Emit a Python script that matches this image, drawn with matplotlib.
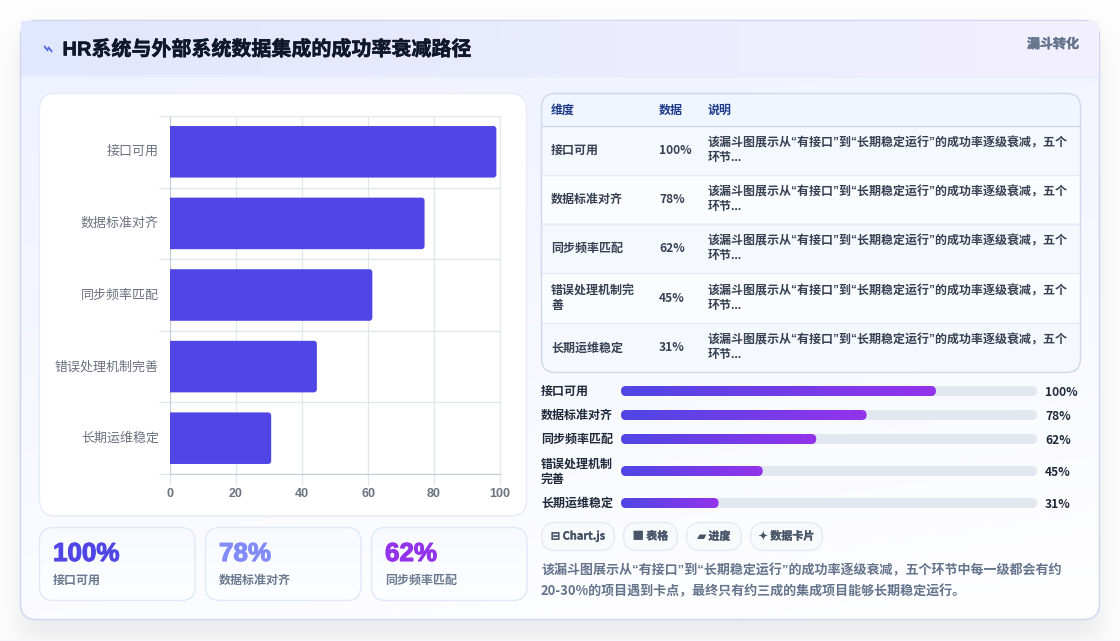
import math
import numpy as np
import matplotlib
matplotlib.use('Agg')
import matplotlib.pyplot as plt
import matplotlib.patheffects as pe
from matplotlib.colors import to_rgb
from matplotlib.patches import FancyBboxPatch, Rectangle
from matplotlib.transforms import ScaledTranslation

plt.rcParams['font.family'] = ['Noto Sans CJK SC', 'DejaVu Sans']
LATIN_CJK = ['Liberation Sans', 'Noto Sans CJK SC', 'DejaVu Sans']

W, H = 1120, 641

stages = ['接口可用', '数据标准对齐', '同步频率匹配', '错误处理机制完善', '长期运维稳定']
progress_labels = ['接口可用', '数据标准对齐', '同步频率匹配', '错误处理机制\n完善', '长期运维稳定']
table_labels = ['接口可用', '数据标准对齐', '同步频率匹配', '错误处理机制完\n善', '长期运维稳定']
values = [100, 78, 62, 45, 31]
x_ticks = [0, 20, 40, 60, 80, 100]

title = 'HR系统与外部系统数据集成的成功率衰减路径'
tag = '漏斗转化'
table_head = ['维度', '数据', '说明']
row_note = '该漏斗图展示从“有接口”到“长期稳定运行”的成功率逐级衰减，五个\n环节...'
chips = ['⊟ Chart.js', '■ 表格', '▰ 进度', '✦ 数据卡片']
summary = ['该漏斗图展示从“有接口”到“长期稳定运行”的成功率逐级衰减，五个环节中每一级都会有约',
           '20-30%的项目遇到卡点，最终只有约三成的集成项目能够长期稳定运行。']
card_colors = ['#4f46e5', '#818cf8', '#9333ea']


def px(size):
    return size * 0.72


def fat(txt, lw=0.3):
    # thicken a label a little beyond the font's bold cut
    txt.set_path_effects([pe.withStroke(linewidth=lw, foreground=txt.get_color())])
    return txt


def rbox(ax, x0, y0, x1, y1, r, fc='none', ec='none', lw=1.0, z=2):
    p = FancyBboxPatch((x0, y0), x1 - x0, y1 - y0, boxstyle='round,pad=0,rounding_size=%s' % r,
                       fc=fc, ec=ec, lw=lw, zorder=z)
    ax.add_patch(p)
    return p


def gradient(ax, x0, y0, x1, y1, c0, c1, clip, z=2, angle=0.0):
    # horizontal to vertical blend, angle in degrees
    n = 200
    xx, yy = np.meshgrid(np.linspace(0, 1, n), np.linspace(0, 1, n))
    a = np.deg2rad(angle)
    t = xx * np.cos(a) + yy * np.sin(a)
    t = (t - t.min()) / (t.max() - t.min())
    c0, c1 = np.array(to_rgb(c0)), np.array(to_rgb(c1))
    img = c0[None, None, :] * (1 - t[..., None]) + c1[None, None, :] * t[..., None]
    im = ax.imshow(img, extent=(x0, x1, y1, y0), zorder=z, interpolation='bilinear', aspect='auto')
    im.set_clip_path(clip)
    return im


def box_profile(n, a, b, sigma):
    # blurred edge profile of the span a..b
    erf = np.vectorize(math.erf)
    t = np.arange(n) + 0.5
    return 0.5 * (erf((t - a) / (sigma * 1.414)) - erf((t - b) / (sigma * 1.414)))


fig = plt.figure(figsize=(W / 100, H / 100), dpi=100)
page = fig.add_axes([0, 0, 1, 1])
page.set_xlim(0, W)
page.set_ylim(H, 0)
page.axis('off')

# page background with the soft shadow under the card
shadow = 0.105 * np.outer(box_profile(H, 34, 640, 13), box_profile(W, 20, 1100, 13))
bg = np.ones((H, W, 3)) * np.array(to_rgb('#fefefe'))[None, None, :]
bg = bg * (1 - shadow[..., None]) + np.array(to_rgb('#3f4150'))[None, None, :] * shadow[..., None]
bg[-1, :, :] = to_rgb('#f7f7fa')
page.imshow(bg, extent=(0, W, H, 0), zorder=0, aspect='auto')

# main card, the header strip is square and sits over the rounded top corners
card_clip = rbox(page, 20.5, 20.5, 1099.5, 619.5, 16, fc='none', z=1)
gradient(page, 20, 20, 1100, 620, '#eef1ff', '#ffffff', card_clip, z=1, angle=75)
rbox(page, 20.5, 20.5, 1099.5, 619.5, 16, ec='#ccd6f3', lw=1, z=1.05)
header_clip = Rectangle((21, 21), 1078, 54.5, transform=page.transData)
gradient(page, 21, 21, 1099, 75.5, '#e1e7fe', '#f3f0fe', header_clip, z=1.1)
page.plot([21, 1099], [75.5, 75.5], color='#e6e9fa', lw=1, zorder=1.2)

page.text(47.5, 50, '⌁', fontsize=px(20), color='#4060dc', ha='center', va='center', rotation=-20,
          family='DejaVu Sans', zorder=3)
fat(page.text(62.5, 49.5, title, fontsize=px(20), fontweight='bold', color='#0f172a', ha='left', va='center',
              family=LATIN_CJK, zorder=3), 0.4)
fat(page.text(1079, 44, tag, fontsize=px(13), fontweight='bold', color='#64748b', ha='right', va='center', zorder=3))

# funnel panel
rbox(page, 39.5, 93.5, 526.5, 516, 16, fc='#ffffff', ec='#e6ebf6', lw=1, z=2)

ax = fig.add_axes([170 / W, 1 - 474 / H, 330 / W, 358 / H], zorder=3)
ax.patch.set_alpha(0)
ax.set_xlim(0, 100)
ax.set_ylim(4.5, -0.5)
# bars stop just short of the gridline scale, rounded on the free end only
bar_scale = 0.989
bar_h = 0.72
for i, v in enumerate(values):
    w = v * bar_scale
    p = FancyBboxPatch((-3, i - bar_h / 2), w + 3, bar_h, boxstyle='round,pad=0,rounding_size=0.9',
                       mutation_aspect=0.046, fc='#4f46e5', ec='none', zorder=3)
    ax.add_patch(p)
ax.set_xticks(x_ticks)
ax.set_yticks(np.arange(len(stages)))
ax.set_yticklabels(stages, fontsize=px(13), color='#6b7280')
ax.set_yticks(np.arange(-0.5, 5), minor=True)
ax.tick_params(axis='y', which='major', length=0, pad=8)
ax.tick_params(axis='y', which='minor', length=8, color='#e5e7eb', width=1)
ax.tick_params(axis='x', length=8, color='#e5e7eb', width=1, pad=2)
ax.set_xticklabels([str(t) for t in x_ticks], fontsize=px(12.5), fontweight='bold', color='#6b7280',
                   family='Liberation Sans')
# category labels sit slightly above the bar centres
lift = ScaledTranslation(0, 1.5 / 100, fig.dpi_scale_trans)
for lab in ax.get_yticklabels():
    lab.set_transform(lab.get_transform() + lift)
ax.grid(True, axis='x', color='#e5e7eb', lw=1, zorder=0)
ax.grid(True, axis='y', which='minor', color='#e5e7eb', lw=1, zorder=0)
ax.set_axisbelow(True)
for s in ['top', 'right']:
    ax.spines[s].set_color('#e5e7eb')
for s in ['left', 'bottom']:
    ax.spines[s].set_color('#c9ccd6')

# stat cards
card_x = [39.5, 205.5, 371.5]
for i, cx in enumerate(card_x):
    clip = rbox(page, cx, 527.5, cx + 155.5, 600.5, 14, fc='none', z=2)
    gradient(page, cx, 527, cx + 156, 601, '#f8faff', '#fdfeff', clip, z=2, angle=90)
    rbox(page, cx, 527.5, cx + 155.5, 600.5, 14, ec='#e0e9f8', lw=1, z=2.1)
    fat(page.text(cx + 13.5, 554, '%d%%' % values[i], fontsize=px(26), fontweight='bold', color=card_colors[i],
                  ha='left', va='center', family='Liberation Sans', zorder=3), 0.8)
    page.text(cx + 13.5, 580, stages[i], fontsize=px(12), fontweight='bold', color='#6b7a8e',
              ha='left', va='center', zorder=3)

# table
tbl_clip = rbox(page, 541.5, 93.5, 1080.5, 372.5, 14, fc='none', z=2)
row_edges = [125.5, 174.5, 223.5, 273, 322.5, 372]
top = page.imshow(np.array([[to_rgb('#eff6ff')]]), extent=(541, 1081, row_edges[0], 93), zorder=2, aspect='auto')
top.set_clip_path(tbl_clip)
for i in range(5):
    fill = '#f6f8ff' if i % 2 == 0 else '#fbfcff'
    r = page.imshow(np.array([[to_rgb(fill)]]), extent=(541, 1081, row_edges[i + 1], row_edges[i]), zorder=2, aspect='auto')
    r.set_clip_path(tbl_clip)
    page.plot([542, 1080], [row_edges[i], row_edges[i]], color='#cfd9ea' if i == 0 else '#e6ebf6', lw=1, zorder=2.2)
rbox(page, 541.5, 93.5, 1080.5, 372.5, 14, ec='#d0d8e9', lw=1, z=2.3)
col_x = [551, 659, 708]
for cx, t in zip(col_x, table_head):
    page.text(cx, 110, t, fontsize=px(12), fontweight='bold', color='#1e3a8a', ha='left', va='center', zorder=3)
for i in range(5):
    cy = (row_edges[i] + row_edges[i + 1]) / 2 + 0.5
    page.text(col_x[0], cy, table_labels[i], fontsize=px(12), fontweight='bold', color='#374151', ha='left', va='center',
              linespacing=1.25, zorder=3)
    page.text(col_x[1], cy, '%d%%' % values[i], fontsize=px(12), fontweight='bold', color='#374151', ha='left', va='center', zorder=3)
    page.text(col_x[2], cy, row_note, fontsize=px(12), fontweight='bold', color='#374151', ha='left', va='center',
              linespacing=1.25, family=LATIN_CJK, zorder=3)

# progress bars
track_y = [391, 415, 439, 471, 503]
track_x0, track_x1 = 621, 1037
progress_span = 132.1
for i, v in enumerate(values):
    y = track_y[i]
    rbox(page, track_x0, y - 5, track_x1, y + 5, 5, fc='#e2e8f0', z=2)
    fill_w = v / progress_span * (track_x1 - track_x0)
    clip = rbox(page, track_x0, y - 5, track_x0 + fill_w, y + 5, 5, fc='none', z=2.1)
    gradient(page, track_x0, y - 5, track_x0 + fill_w, y + 5, '#4f46e5', '#9333ea', clip, z=2.1)
    page.text(541, y + 0.5, progress_labels[i], fontsize=px(12), fontweight='bold', color='#1f2937', ha='left', va='center',
              linespacing=1.25, zorder=3)
    page.text(1045, y + 1, '%d%%' % v, fontsize=px(12), fontweight='bold', color='#1f2937', ha='left', va='center', zorder=3)

# chips
chip_edges = [(541, 615), (623, 678), (686, 742), (750, 823)]
for (x0, x1), t in zip(chip_edges, chips):
    rbox(page, x0 + 0.5, 522.5, x1 - 0.5, 550.5, 14, fc='#f8fafc', ec='#e6ebf2', lw=1, z=2)
    fat(page.text((x0 + x1) / 2, 536.5, t, fontsize=px(11), fontweight='bold', color='#475569', ha='center', va='center', zorder=3), 0.2)

page.text(541, 571, summary[0], fontsize=px(13), fontweight='bold', color='#64748b', ha='left', va='center',
          family=LATIN_CJK, zorder=3)
page.text(541, 591, summary[1], fontsize=px(13), fontweight='bold', color='#64748b', ha='left', va='center', zorder=3)

page.set_xlim(0, W)
page.set_ylim(H, 0)
fig.savefig('out.png', dpi=100)
